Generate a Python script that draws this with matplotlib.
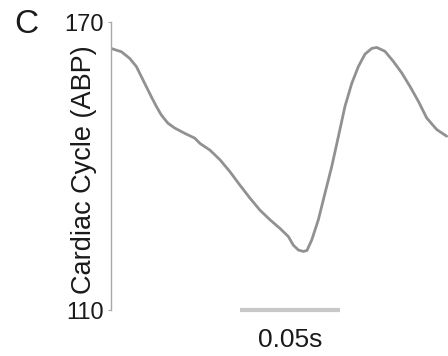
import matplotlib
matplotlib.use("Agg")
import matplotlib.pyplot as plt

plt.rcParams['font.family'] = ['Liberation Sans', 'DejaVu Sans']

# one cardiac cycle of arterial blood pressure
time_s = [0.0000, 0.0052, 0.0094, 0.0127, 0.0152, 0.0177, 0.0202, 0.0227,
          0.0252, 0.0285, 0.0319, 0.0369, 0.0419, 0.0445, 0.0495, 0.0545,
          0.0595, 0.0645, 0.0695, 0.0745, 0.0795, 0.0845, 0.0887, 0.0912,
          0.0937, 0.0962, 0.0980, 0.1004, 0.1037, 0.1070, 0.1104, 0.1137,
          0.1170, 0.1204, 0.1237, 0.1270, 0.1304, 0.1329, 0.1370, 0.1412,
          0.1454, 0.1495, 0.1537, 0.1579, 0.1629, 0.1679]
abp = [164.5, 163.8, 162.4, 160.7, 158.6, 156.5, 154.4, 152.4,
       150.6, 148.9, 147.9, 146.8, 145.8, 144.7, 143.3, 141.3,
       138.8, 136.0, 133.3, 130.8, 128.8, 127.0, 125.3, 123.5,
       122.5, 122.2, 122.4, 124.6, 128.8, 134.3, 139.9, 146.1,
       152.4, 157.2, 160.7, 163.3, 164.5, 164.7, 163.9, 161.8,
       159.4, 156.6, 153.5, 150.0, 147.6, 146.2]

y_ticks = [110, 170]
scale_bar = [0.0645, 0.1145]   # 0.05 s
scale_label = "0.05s"

fig = plt.figure(figsize=(4.48, 3.56), dpi=100)
ax = fig.add_axes([0.2478, 0.1292, 0.752, 0.809])

ax.plot(time_s, abp, color='#919191', lw=2.0, solid_joinstyle='round',
        solid_capstyle='round')
ax.set_xlim(0, 0.1685)
ax.set_ylim(110, 170)

for side in ['top', 'right', 'bottom']:
    ax.spines[side].set_visible(False)
ax.spines['left'].set_color('#a8a8a8')
ax.spines['left'].set_linewidth(1.0)
ax.set_xticks([])
ax.set_yticks(y_ticks)
ax.tick_params(axis='y', length=2, width=0.8, color='#a8a8a8', pad=3.5,
               labelsize=17, labelcolor='#1a1a1a')

# time scale bar under the trace
ax.plot(scale_bar, [110, 110], color='#c8c8c8', lw=3, solid_capstyle='butt',
        clip_on=False)
ax.text(sum(scale_bar) / 2, 102.3, scale_label, ha='center', va='baseline',
        fontsize=19, color='#1a1a1a')

fig.text(84 / 448, 1 - 170 / 356, "Cardiac Cycle (ABP)", rotation=90,
         ha='center', va='center', fontsize=19.5, color='#1a1a1a')
fig.text(14 / 448, 1 - 33 / 356, "C", ha='left', va='baseline',
         fontsize=24, color='#1a1a1a')

fig.savefig("out.png", dpi=100)
